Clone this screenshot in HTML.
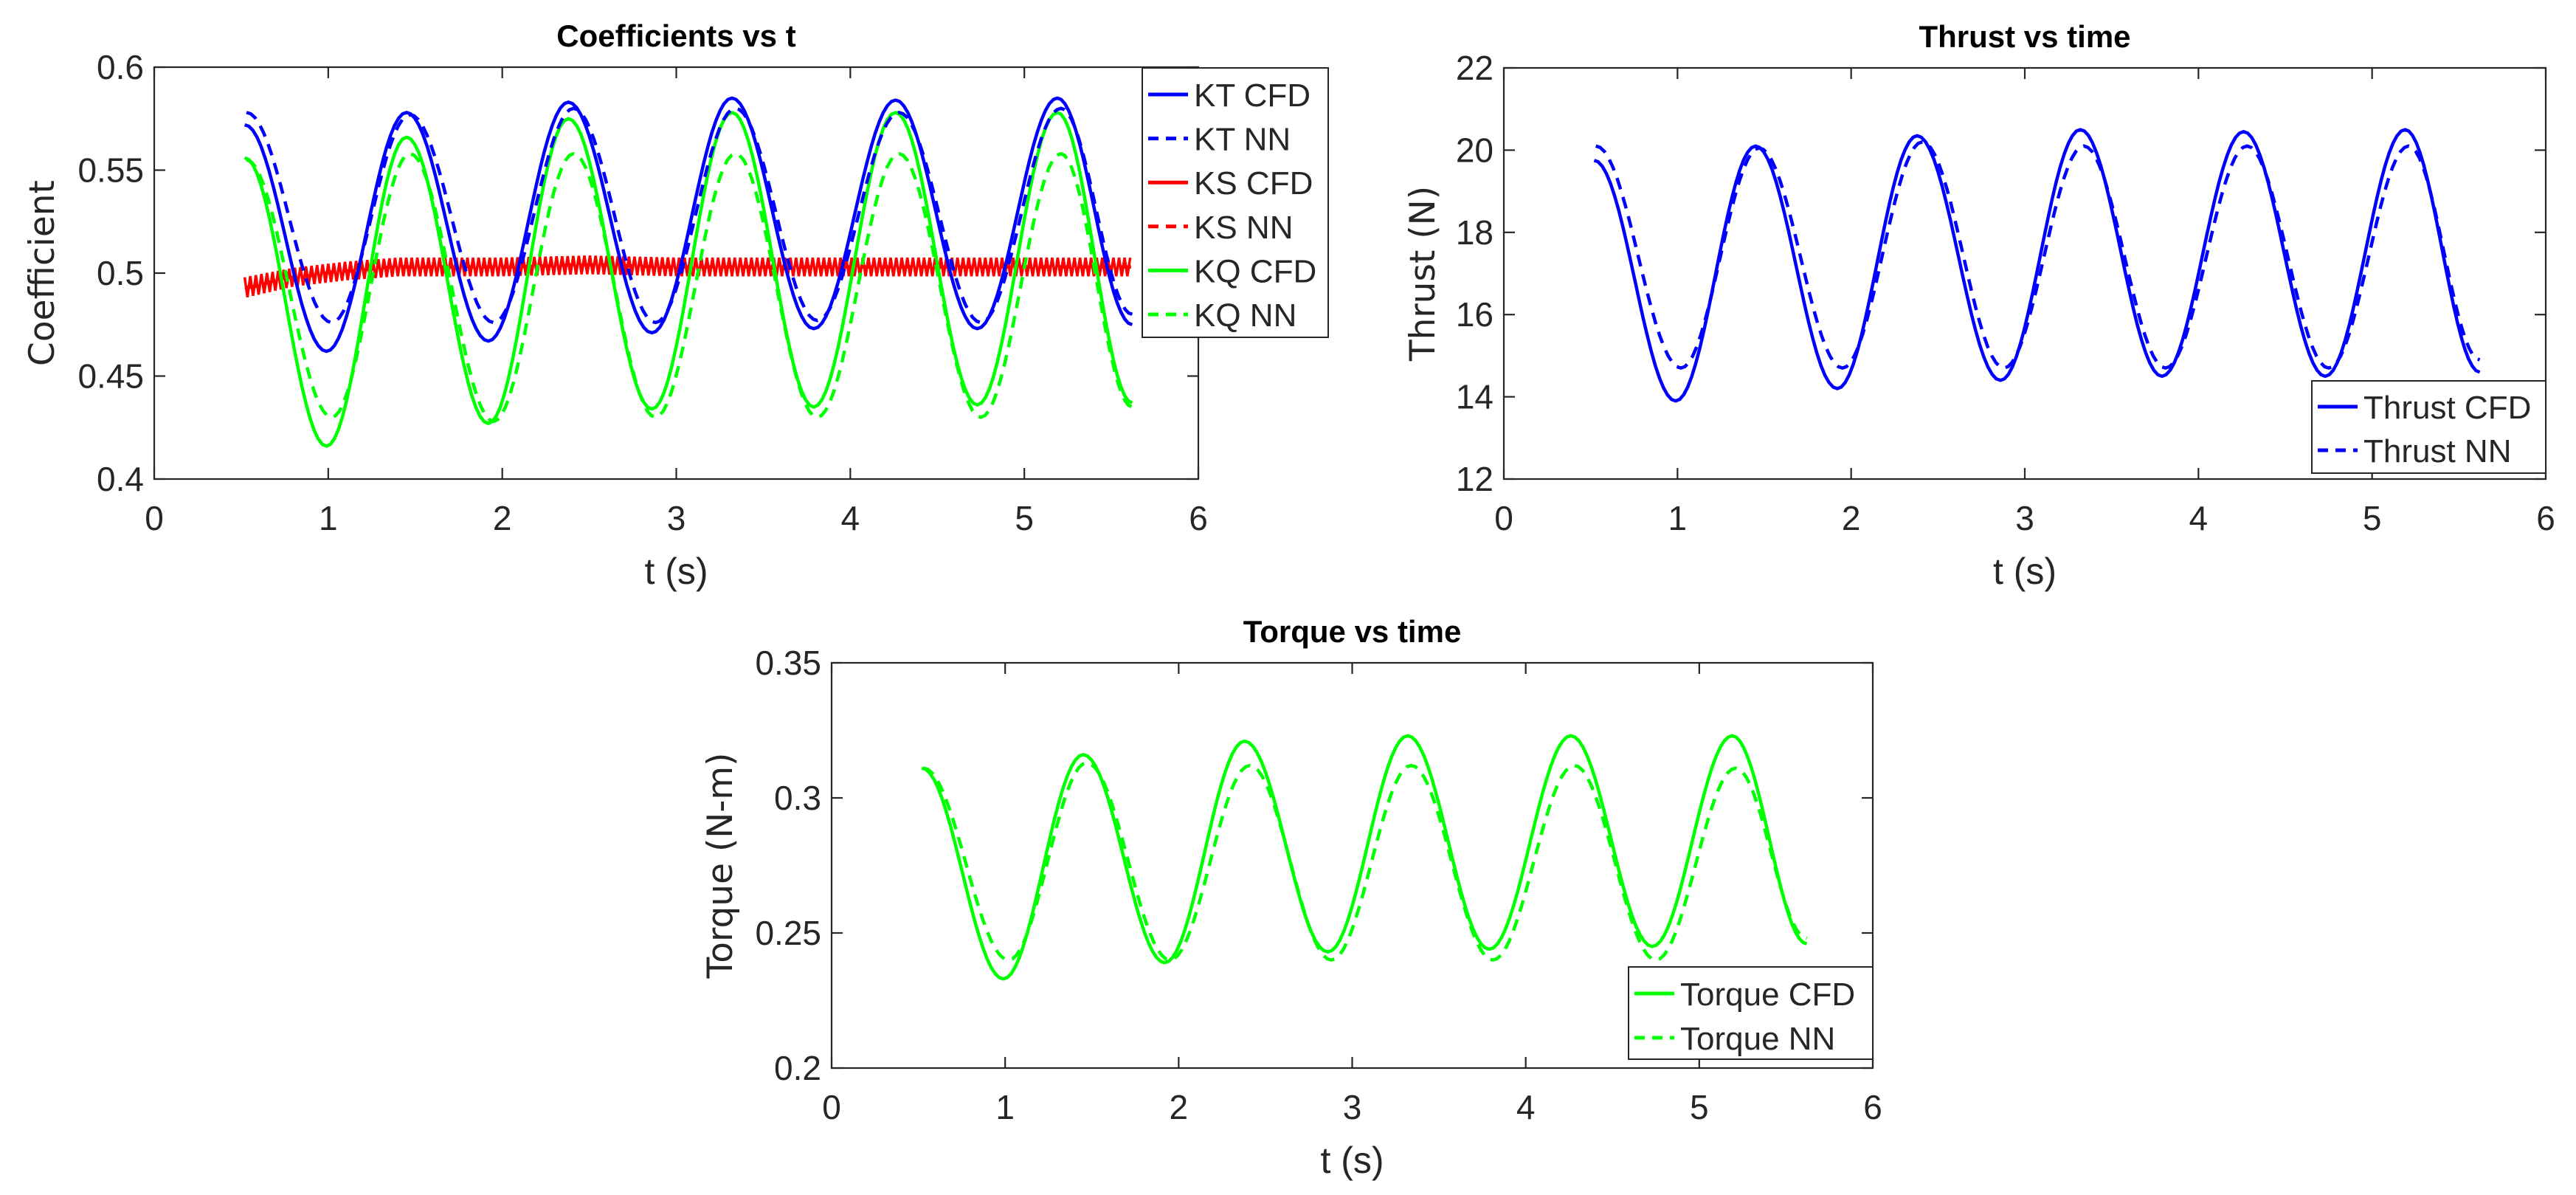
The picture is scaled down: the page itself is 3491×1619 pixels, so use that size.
<!DOCTYPE html>
<html><head><meta charset="utf-8"><style>
body{margin:0;background:#fff}
svg{display:block}
text{fill:#262626;font-family:"Liberation Sans",sans-serif}
</style></head><body>
<svg id="fig" width="3491" height="1619" viewBox="0 0 3491 1619" xmlns="http://www.w3.org/2000/svg"></svg>
<script>
// ---- data (extrema times and values) ----
const tCFD = [0.52,0.99,1.45,1.92,2.38,2.86,3.32,3.79,4.26,4.73,5.19,5.62];
const tNN  = [0.53,1.02,1.47,1.95,2.41,2.88,3.34,3.81,4.28,4.75,5.21,5.62];
const ktCFD = [0.572,0.462,0.578,0.467,0.583,0.471,0.585,0.473,0.584,0.473,0.585,0.475];
const ktNN  = [0.578,0.476,0.577,0.476,0.580,0.476,0.580,0.477,0.578,0.476,0.580,0.480];
const kqCFD = [0.556,0.416,0.566,0.427,0.575,0.434,0.578,0.435,0.578,0.436,0.578,0.437];
const kqNN  = [0.555,0.430,0.558,0.428,0.558,0.430,0.558,0.430,0.558,0.430,0.558,0.435];
const ksT    = [0.52,0.8,1.1,1.4,2.0,2.5,3.0,3.5,4.0,4.5,5.0,5.62];
const ksBase = [0.493,0.498,0.501,0.503,0.503,0.504,0.503,0.503,0.503,0.503,0.503,0.503];
const ksAmp  = [0.005,0.0045,0.0045,0.0045,0.0045,0.0045,0.0045,0.0045,0.0045,0.0045,0.0045,0.0045];
const thrustCFD = [19.75,13.9,20.1,14.2,20.35,14.4,20.5,14.5,20.45,14.5,20.5,14.6];
const thrustNN  = [20.1,14.7,20.05,14.7,20.2,14.7,20.1,14.7,20.1,14.7,20.1,14.9];
const torqueCFD = [0.311,0.233,0.316,0.239,0.321,0.243,0.323,0.244,0.323,0.245,0.323,0.246];
const torqueNN  = [0.311,0.240,0.313,0.240,0.312,0.240,0.312,0.240,0.312,0.240,0.311,0.248];
const xTicks = [0,1,2,3,4,5,6];
const coefTicks = [0.4,0.45,0.5,0.55,0.6];
const coefTickLabels = ["0.4","0.45","0.5","0.55","0.6"];
const thrustTicks = [12,14,16,18,20,22];
const thrustTickLabels = ["12","14","16","18","20","22"];
const torqueTicks = [0.2,0.25,0.3,0.35];
const torqueTickLabels = ["0.2","0.25","0.3","0.35"];

const NS="http://www.w3.org/2000/svg";
const fig=document.getElementById('fig');
function mk(tag,attrs,parent){const e=document.createElementNS(NS,tag);for(const k in attrs)e.setAttribute(k,attrs[k]);(parent||fig).appendChild(e);return e;}

function curvePath(ts,vs,sx,sy){
  let d=`M${sx(ts[0]).toFixed(1)},${sy(vs[0]).toFixed(1)}`;
  for(let i=0;i<ts.length-1;i++){
    for(let k=1;k<=20;k++){
      const f=k/20,e=(1-Math.cos(Math.PI*f))/2;
      d+=`L${sx(ts[i]+(ts[i+1]-ts[i])*f).toFixed(1)},${sy(vs[i]+(vs[i+1]-vs[i])*e).toFixed(1)}`;
    }
  }
  return d;
}
function lerpArr(ts,vs,t){for(let i=0;i<ts.length-1;i++){if(t<=ts[i+1]){const f=(t-ts[i])/(ts[i+1]-ts[i]);return vs[i]+(vs[i+1]-vs[i])*f;}}return vs[vs.length-1];}

function panel(c){
  const g=mk('g',{});
  
  
  const sx=v=>c.L+(v-0)/6*(c.R-c.L);
  const sy=v=>c.B-(v-c.y0)/(c.y1-c.y0)*(c.B-c.T);
  c.draw(g,sx,sy);
  const box=mk('rect',{x:c.L,y:c.T,width:c.R-c.L,height:c.B-c.T,fill:'none',stroke:'#262626','stroke-width':2.2},g);
  
  
  xTicks.forEach(v=>{
    const x=sx(v);
    mk('line',{x1:x,x2:x,y1:c.B,y2:c.B-15,stroke:'#262626','stroke-width':2.2},g);
    mk('line',{x1:x,x2:x,y1:c.T,y2:c.T+15,stroke:'#262626','stroke-width':2.2},g);
    const t=mk('text',{x:x,y:c.B+69,'font-size':46,'text-anchor':'middle'},g);t.textContent=v;
    
    
  });
  c.yt.forEach((v,i)=>{
    const y=sy(v);
    mk('line',{x1:c.L,x2:c.L+15,y1:y,y2:y,stroke:'#262626','stroke-width':2.2},g);
    mk('line',{x1:c.R,x2:c.R-15,y1:y,y2:y,stroke:'#262626','stroke-width':2.2},g);
    const t=mk('text',{x:c.L-14,y:y+16,'font-size':46,'text-anchor':'end'},g);t.textContent=c.ytl[i];
    
    
  });
  const ti=mk('text',{x:(c.L+c.R)/2,y:c.T-28,'font-size':42,'font-weight':'bold','text-anchor':'middle',style:'fill:#000'},g);ti.textContent=c.title;
  
  
  const xl=mk('text',{x:(c.L+c.R)/2,y:c.B+142,'font-size':50,'text-anchor':'middle'},g);xl.textContent='t (s)';
  
  
  const yl=mk('text',{x:0,y:0,'font-size':47,'text-anchor':'middle',transform:`translate(${c.ylx},${(c.T+c.B)/2}) rotate(-90)`,style:'font-family:"DejaVu Sans",sans-serif'},g);yl.textContent=c.ylabel;
  
  
  const lg=mk('g',{},g);
  
  
  mk('rect',{x:c.lg.x,y:c.lg.y,width:c.lg.w,height:c.lg.h,fill:'#fff',stroke:'#262626','stroke-width':2},lg);
  c.lg.items.forEach((it,i)=>{
    const y=c.lg.y0+i*c.lg.dy;
    const e=mk('g',{},lg);
    
    
    mk('line',{x1:c.lg.x+8,x2:c.lg.x+62,y1:y,y2:y,stroke:it.c,'stroke-width':5,'stroke-dasharray':it.d?'14 10':'none'},e);
    const t=mk('text',{x:c.lg.x+70,y:y+16,'font-size':44},e);t.textContent=it.t;
  });
}
function line(g,ts,vs,sx,sy,color,dashed,name){
  const p=mk('path',{d:curvePath(ts,vs,sx,sy),fill:'none',stroke:color,'stroke-width':4.5,'stroke-dasharray':dashed?'16 11':'none','stroke-linejoin':'round'},g);
  
  
}
const BL='#0000ff',RD='#ff0000',GR='#00ff00';

panel({name:'coefficients-chart',L:209,R:1624,T:91,B:649,y0:0.4,y1:0.6,yt:coefTicks,ytl:coefTickLabels,
 title:'Coefficients vs t',ylabel:'Coefficient',ylx:73,
 lg:{x:1548,y:92,w:252,h:365,y0:128,dy:59.6,items:[{t:'KT CFD',c:BL},{t:'KT NN',c:BL,d:1},{t:'KS CFD',c:RD},{t:'KS NN',c:RD,d:1},{t:'KQ CFD',c:GR},{t:'KQ NN',c:GR,d:1}]},
 draw:(g,sx,sy)=>{
  let d='';let s=1;
  for(let t=ksT[0];t<=ksT[ksT.length-1];t+=0.016){
    const v=lerpArr(ksT,ksBase,t)+s*lerpArr(ksT,ksAmp,t);s=-s;
    d+=(d?'L':'M')+sx(t).toFixed(1)+','+sy(v).toFixed(1);
  }
  const ks=mk('path',{d:d,fill:'none',stroke:RD,'stroke-width':3.5},g);
  
  
  line(g,ksT,ksBase,sx,sy,RD,1,'ks-nn-line');
  line(g,tCFD,kqCFD,sx,sy,GR,0,'kq-cfd-line');
  line(g,tNN,kqNN,sx,sy,GR,1,'kq-nn-line');
  line(g,tCFD,ktCFD,sx,sy,BL,0,'kt-cfd-line');
  line(g,tNN,ktNN,sx,sy,BL,1,'kt-nn-line');
 }});

panel({name:'thrust-chart',L:2038,R:3450,T:92,B:649,y0:12,y1:22,yt:thrustTicks,ytl:thrustTickLabels,
 title:'Thrust vs time',ylabel:'Thrust (N)',ylx:1944,
 lg:{x:3133,y:516,w:317,h:125,y0:551,dy:59,items:[{t:'Thrust CFD',c:BL},{t:'Thrust NN',c:BL,d:1}]},
 draw:(g,sx,sy)=>{
  line(g,tCFD,thrustCFD,sx,sy,BL,0,'thrust-cfd-line');
  line(g,tNN,thrustNN,sx,sy,BL,1,'thrust-nn-line');
 }});

panel({name:'torque-chart',L:1127,R:2538,T:898,B:1447,y0:0.2,y1:0.35,yt:torqueTicks,ytl:torqueTickLabels,
 title:'Torque vs time',ylabel:'Torque (N-m)',ylx:992,
 lg:{x:2207,y:1310,w:331,h:125,y0:1346,dy:60,items:[{t:'Torque CFD',c:GR},{t:'Torque NN',c:GR,d:1}]},
 draw:(g,sx,sy)=>{
  line(g,tCFD,torqueCFD,sx,sy,GR,0,'torque-cfd-line');
  line(g,tNN,torqueNN,sx,sy,GR,1,'torque-nn-line');
 }});
</script>
</body></html>
